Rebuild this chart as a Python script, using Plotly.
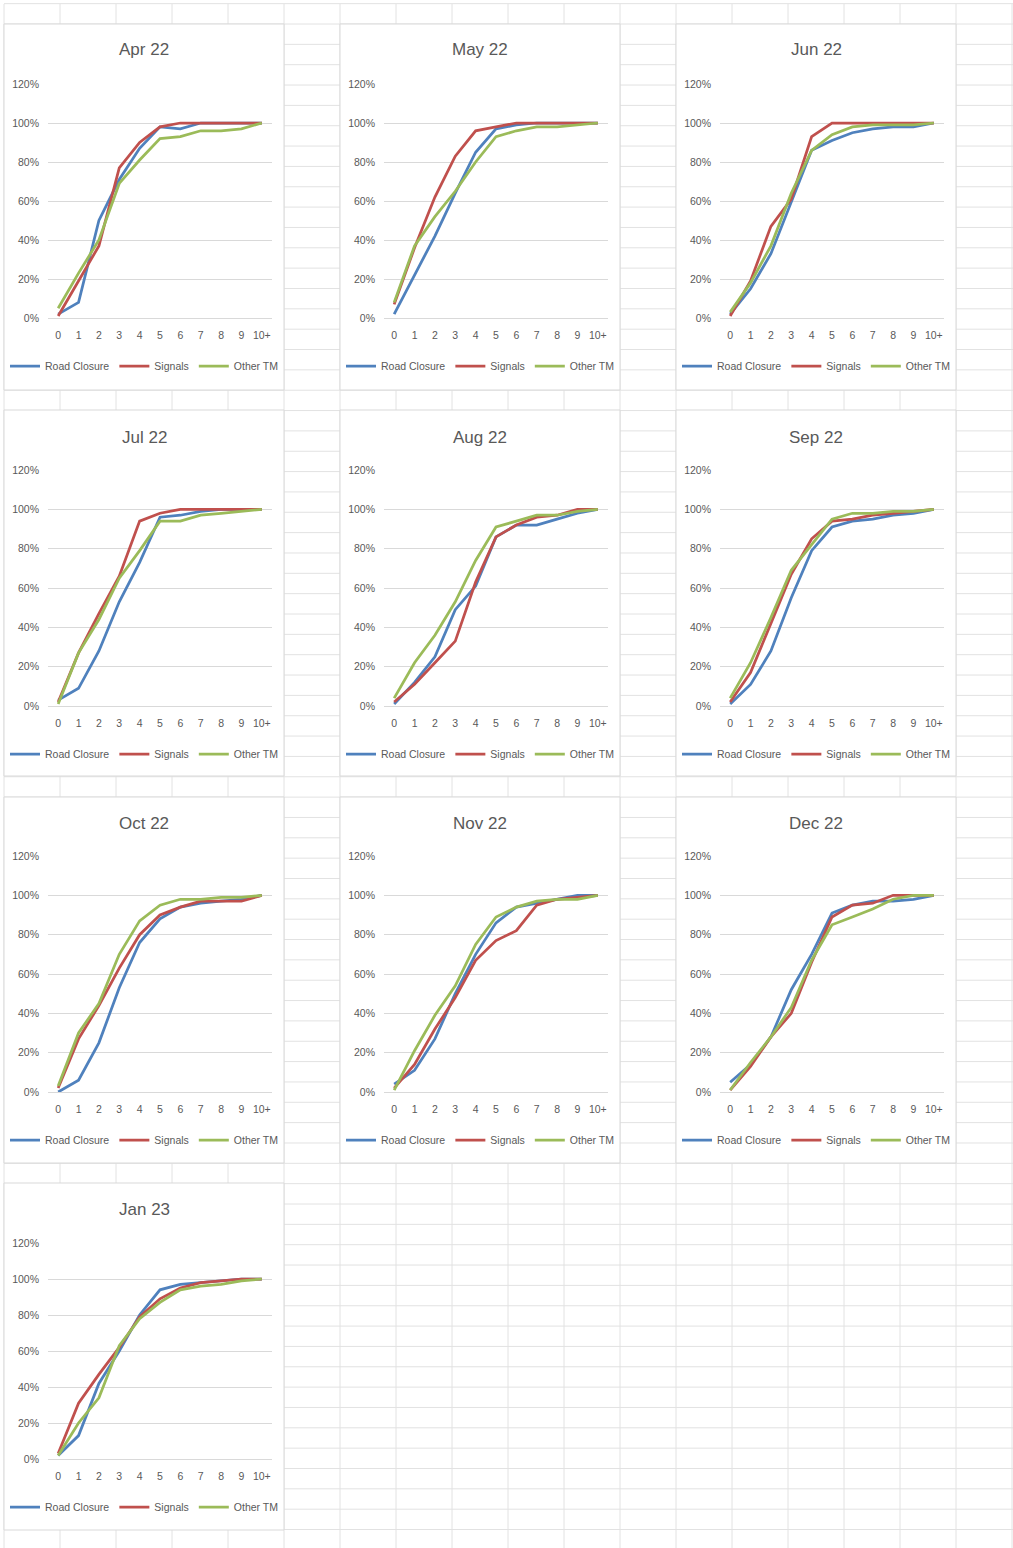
import plotly.graph_objects as go

W, H = 1013, 1548

categories = ["0", "1", "2", "3", "4", "5", "6", "7", "8", "9", "10+"]
series_names = ["Road Closure", "Signals", "Other TM"]
months = ["Apr 22", "May 22", "Jun 22", "Jul 22", "Aug 22", "Sep 22",
          "Oct 22", "Nov 22", "Dec 22", "Jan 23"]
y_ticks = [0, 20, 40, 60, 80, 100, 120]
y_tick_labels = ["0%", "20%", "40%", "60%", "80%", "100%", "120%"]

# cumulative % per month (Road Closure / Signals / Other TM)
apr22_road = [2, 8, 50, 71, 87, 98, 97, 100, 100, 100, 100]
apr22_signals = [1, 19, 37, 77, 90, 98, 100, 100, 100, 100, 100]
apr22_other = [5, 23, 40, 69, 81, 92, 93, 96, 96, 97, 100]

may22_road = [2, 22, 42, 64, 85, 97, 99, 100, 100, 100, 100]
may22_signals = [7, 36, 62, 83, 96, 98, 100, 100, 100, 100, 100]
may22_other = [8, 37, 52, 65, 80, 93, 96, 98, 98, 99, 100]

jun22_road = [2, 15, 33, 59, 86, 91, 95, 97, 98, 98, 100]
jun22_signals = [1, 19, 47, 61, 93, 100, 100, 100, 100, 100, 100]
jun22_other = [3, 18, 37, 64, 86, 94, 98, 99, 99, 99, 100]

jul22_road = [3, 9, 28, 53, 73, 96, 97, 99, 100, 100, 100]
jul22_signals = [2, 27, 47, 66, 94, 98, 100, 100, 100, 100, 100]
jul22_other = [1, 27, 44, 65, 79, 94, 94, 97, 98, 99, 100]

aug22_road = [1, 12, 25, 49, 61, 86, 92, 92, 95, 98, 100]
aug22_signals = [2, 11, 22, 33, 63, 86, 92, 96, 97, 100, 100]
aug22_other = [4, 22, 36, 53, 74, 91, 94, 97, 97, 99, 100]

sep22_road = [1, 11, 28, 55, 79, 91, 94, 95, 97, 98, 100]
sep22_signals = [2, 17, 42, 67, 85, 94, 95, 97, 98, 99, 100]
sep22_other = [4, 22, 45, 69, 82, 95, 98, 98, 99, 99, 100]

oct22_road = [0, 6, 25, 53, 76, 88, 94, 96, 97, 98, 100]
oct22_signals = [2, 27, 44, 63, 80, 90, 94, 97, 97, 97, 100]
oct22_other = [3, 30, 45, 70, 87, 95, 98, 98, 99, 99, 100]

nov22_road = [4, 11, 27, 50, 70, 86, 94, 96, 98, 100, 100]
nov22_signals = [2, 14, 32, 48, 67, 77, 82, 95, 98, 99, 100]
nov22_other = [1, 21, 39, 54, 75, 89, 94, 97, 98, 98, 100]

dec22_road = [5, 14, 28, 52, 70, 91, 95, 97, 97, 98, 100]
dec22_signals = [1, 13, 28, 40, 66, 89, 95, 96, 100, 100, 100]
dec22_other = [1, 15, 28, 43, 67, 85, 89, 93, 98, 100, 100]

jan23_road = [2, 13, 42, 60, 80, 94, 97, 98, 99, 100, 100]
jan23_signals = [3, 31, 47, 62, 79, 89, 95, 98, 99, 100, 100]
jan23_other = [2, 20, 34, 63, 78, 87, 94, 96, 97, 99, 100]

month_series = [
    (apr22_road, apr22_signals, apr22_other),
    (may22_road, may22_signals, may22_other),
    (jun22_road, jun22_signals, jun22_other),
    (jul22_road, jul22_signals, jul22_other),
    (aug22_road, aug22_signals, aug22_other),
    (sep22_road, sep22_signals, sep22_other),
    (oct22_road, oct22_signals, oct22_other),
    (nov22_road, nov22_signals, nov22_other),
    (dec22_road, dec22_signals, dec22_other),
    (jan23_road, jan23_signals, jan23_other),
]

# ---------------- styling / layout ----------------
COLORS = ["#4F81BD", "#C0504D", "#9BBB59"]
TXT = "#595959"
FONT = "Liberation Sans, Arial, sans-serif"
GRID = "#d9d9d9"
SHEET = "#e2e2e2"


def xp(px):
    return px / W


def yp(py):
    return 1 - py / H


plot_left = [48, 384, 720]
plot_w = 224
panel_x = [(4, 284), (340, 620), (676, 956)]
row_plot = [(84, 318), (470, 706), (856, 1092), (1243, 1459)]
row_title = [50, 437, 823, 1209]
row_legend = [366, 754, 1140, 1507]
row_panel = [(24, 390), (410, 776), (797, 1163), (1183, 1530)]

fig = go.Figure()
shapes = []

# spreadsheet cell grid
for k in range(19):
    x = 4 + 56 * k
    shapes.append(dict(type="line", xref="paper", yref="paper", layer="below",
                       x0=xp(x), x1=xp(x), y0=yp(4), y1=0,
                       line=dict(color=SHEET, width=1)))
k = 0
while True:
    yy = 24 + 20.345 * (k - 1)
    if yy > H:
        break
    shapes.append(dict(type="line", xref="paper", yref="paper", layer="below",
                       x0=xp(4), x1=1, y0=yp(yy), y1=yp(yy),
                       line=dict(color=SHEET, width=1)))
    k += 1

annotations = []
layout_extra = {}

for i, month in enumerate(months):
    r, c = divmod(i, 3)
    sfx = "" if i == 0 else str(i + 1)
    px0, px1 = panel_x[c]
    py0, py1 = row_panel[r]
    shapes.append(dict(type="rect", xref="paper", yref="paper", layer="below",
                       x0=xp(px0), x1=xp(px1), y0=yp(py1), y1=yp(py0),
                       fillcolor="white", line=dict(color=GRID, width=1)))

    top, bot = row_plot[r]
    layout_extra["xaxis" + sfx] = dict(
        domain=[xp(plot_left[c]), xp(plot_left[c] + plot_w)],
        anchor="y" + sfx, type="category", categoryorder="array",
        categoryarray=categories, range=[-0.5, 10.5],
        showgrid=False, zeroline=False, showline=False, ticks="",
        tickfont=dict(family=FONT, size=10.5, color=TXT),
        ticklabelstandoff=9, automargin=False, fixedrange=True)
    layout_extra["yaxis" + sfx] = dict(
        domain=[yp(bot), yp(top)], anchor="x" + sfx,
        range=[0, 120], tickmode="array", tickvals=y_ticks,
        ticktext=y_tick_labels,
        showgrid=True, gridcolor=GRID, gridwidth=1,
        zeroline=True, zerolinecolor=GRID, zerolinewidth=1,
        showline=False, ticks="",
        tickfont=dict(family=FONT, size=10.5, color=TXT),
        ticklabelstandoff=8, automargin=False, fixedrange=True)

    leg = "legend" + sfx
    layout_extra[leg] = dict(
        orientation="h", x=xp((px0 + px1) / 2), xanchor="center",
        y=yp(row_legend[r]), yanchor="middle", bgcolor="rgba(0,0,0,0)",
        font=dict(family=FONT, size=10.5, color=TXT), itemwidth=30,
        tracegroupgap=0)

    annotations.append(dict(
        text=month, xref="paper", yref="paper", x=xp((px0 + px1) / 2),
        y=yp(row_title[r]), xanchor="center", yanchor="middle",
        showarrow=False, font=dict(family=FONT, size=17, color=TXT)))

    for name, vals, color in zip(series_names, month_series[i], COLORS):
        fig.add_trace(go.Scatter(
            x=categories, y=vals, name=name, mode="lines",
            line=dict(color=color, width=2.75),
            xaxis="x" + sfx, yaxis="y" + sfx, legend=leg,
            showlegend=True, hoverinfo="skip"))

fig.update_layout(
    width=W, height=H, autosize=False,
    margin=dict(l=0, r=0, t=0, b=0, pad=0, autoexpand=False),
    paper_bgcolor="white", plot_bgcolor="rgba(0,0,0,0)",
    shapes=shapes, annotations=annotations,
    **layout_extra)

fig.write_html(
    "out.html",
    config={"displayModeBar": False},
    post_script="document.body.style.margin='0';"
                "document.documentElement.style.overflow='hidden';")
